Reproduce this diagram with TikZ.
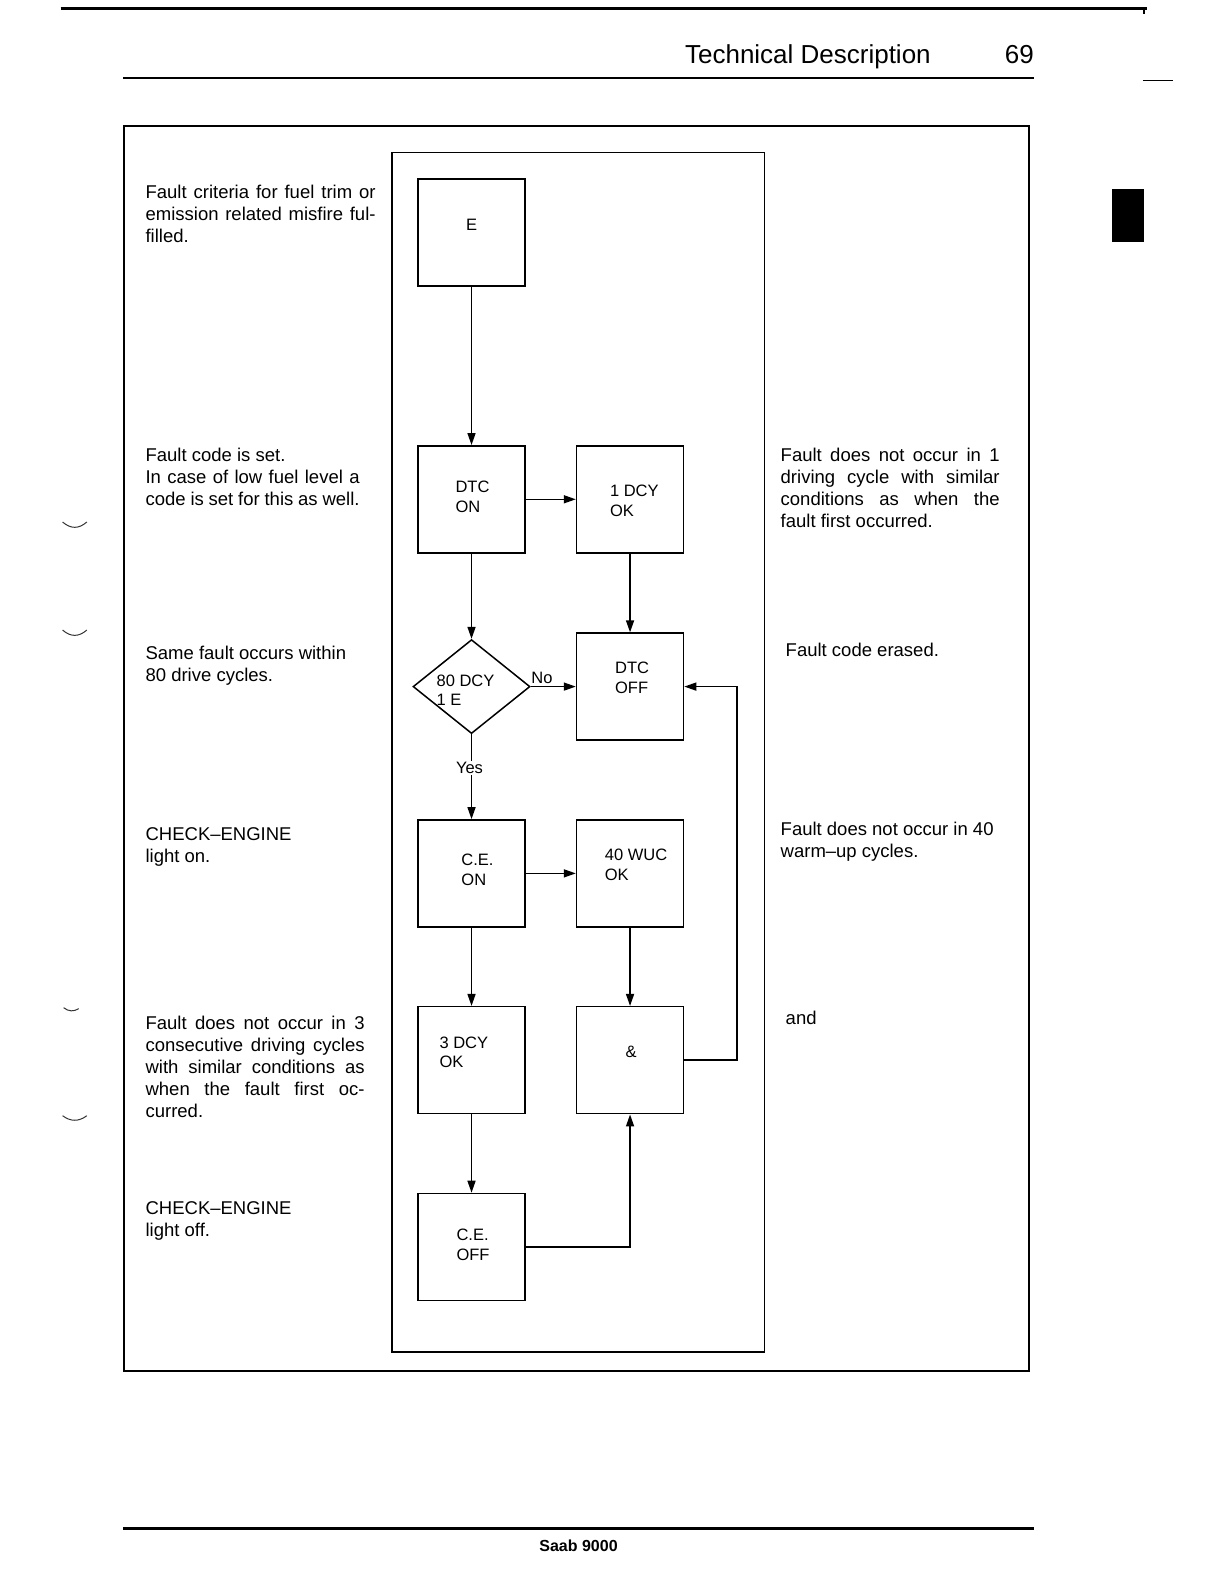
\documentclass[tikz,border=0pt]{standalone}
\usepackage{fontspec}
\setmainfont{Liberation Sans}
\usetikzlibrary{arrows.meta,shapes.geometric}
\newcommand\bt[3]{\raisebox{\dimexpr#2-3pt\relax}[0pt][0pt]{\makebox[0pt][c]{\hspace*{#1}\hspace*{#1}\begin{tabular}{@{}l@{}}#3\end{tabular}}}}
\newcommand\jl[2]{\makebox[#1][s]{#2}}
\newcommand\sidetext[1]{\begin{tabular}[t]{@{}l@{}}#1\end{tabular}}
\begin{document}
\begin{tikzpicture}[x=1.0097pt,y=-1.0097pt,
  box/.style={draw,line width=1.5pt,minimum width=107pt,minimum height=107pt,inner sep=0pt,font=\fontsize{16.5}{19.5}\selectfont},
  decision/.style={draw,diamond,line width=1.5pt,minimum width=117pt,minimum height=94pt,aspect=1.245,inner sep=0pt,font=\fontsize{16.5}{19.5}\selectfont},
  arr/.style={-{Triangle[length=12pt,width=8pt]},line width=1.5pt},
  side/.style={anchor=base west,inner sep=0pt,font=\fontsize{18.5}{22}\selectfont},
  lab/.style={font=\fontsize{16.5}{19.5}\selectfont,inner sep=1pt},
  frame/.style={draw,line width=1.5pt},
  scanmark/.style={line width=1pt,black!80}
]
\useasboundingbox (0,0) rectangle (1212.2,1568.8);

% header
\draw[line width=3pt] (60,8) -- (1136,8);
\draw[line width=1.5pt] (1133,8) -- (1133,14);
\node[anchor=base east,inner sep=0pt,font=\fontsize{26}{30}\selectfont] (hdr) at (922,63) {Technical Description};
\node[anchor=base east,inner sep=0pt,font=\fontsize{26}{30}\selectfont] (pg) at (1024,63) {69};
\draw[line width=2pt] (122,77) -- (1024,77);
\draw[line width=1pt] (1132,80) -- (1162,80);
\fill (1101,187) rectangle (1133,240);

% margin marks
\draw[scanmark] (62,517) .. controls (70,524) and (78,524) .. (86,517);
\draw[scanmark] (62,624) .. controls (70,631) and (78,631) .. (86,624);
\draw[scanmark] (63,998) .. controls (68,1002) and (73,1002) .. (78,999);
\draw[scanmark] (62,1105) .. controls (70,1111) and (78,1111) .. (86,1105);

% frames
\draw[frame] (123,125) rectangle (1019,1358);
\draw[frame] (388,151) rectangle (757,1339);

% flowchart nodes
\node[box] (E) at (467,230.5) {\bt{0pt}{4.4pt}{E}};
\node[box] (dtcon) at (467,494.5) {\bt{1pt}{-0.6pt}{DTC\\ON}};
\node[box] (dcy1) at (624,494.5) {\bt{4.3pt}{-4.6pt}{1 DCY\\OK}};
\node[decision] (dia) at (467,680) {\bt{-6pt}{-6.6pt}{80 DCY\\1 E}};
\node[box] (dtcoff) at (624,680) {\bt{2pt}{5.9pt}{DTC\\OFF}};
\node[box] (ceon) at (467,865) {\bt{6pt}{0.4pt}{C.E.\\ON}};
\node[box] (wuc) at (624,865) {\bt{6pt}{5.4pt}{40 WUC\\OK}};
\node[box] (dcy3) at (467,1050) {\bt{-7.7pt}{4.9pt}{3 DCY\\OK}};
\node[box] (andb) at (624,1050) {\bt{1pt}{4.9pt}{\&}};
\node[box] (ceoff) at (467,1235) {\bt{1.5pt}{-1.1pt}{C.E.\\OFF}};

% connectors
\draw[arr] (E) -- (dtcon);
\draw[arr] (dtcon) -- (dcy1);
\draw[arr] (dcy1) -- (dtcoff);
\draw[arr] (dtcon) -- (dia);
\draw[arr] (dia.east) -- node[lab,pos=0.25,anchor=base,yshift=2.6pt] (no) {No} (dtcoff.west);
\draw[arr] (dia.south) -- node[lab,pos=0.46,anchor=base,fill=white,xshift=-2pt] (yes) {Yes} (ceon.north);
\draw[arr] (ceon) -- (wuc);
\draw[arr] (ceon) -- (dcy3);
\draw[arr] (wuc) -- (andb);
\draw[arr] (dcy3) -- (ceoff);
\draw[arr] (ceoff.east) -| (andb.south);
\coordinate (fb) at (730,1050);
\draw[arr] (andb.east) -- (fb) |- (dtcoff.east);

% left texts
\node[side] (t1) at (144,197) {\sidetext{\jl{230pt}{Fault criteria for fuel trim or}\\\jl{230pt}{emission related misfire ful-}\\filled.}};
\node[side] (t2) at (144,457) {\sidetext{Fault code is set.\\\jl{214pt}{In case of low fuel level a}\\\jl{214pt}{code is set for this as well.}}};
\node[side] (t3) at (144,653) {\sidetext{Same fault occurs within\\80 drive cycles.}};
\node[side] (t4) at (144,832) {\sidetext{CHECK–ENGINE\\light on.}};
\node[side] (t5) at (144,1020) {\sidetext{\jl{219pt}{Fault does not occur in 3}\\\jl{219pt}{consecutive driving cycles}\\\jl{219pt}{with similar conditions as}\\\jl{219pt}{when the fault first oc-}\\curred.}};
\node[side] (t6) at (144,1203) {\sidetext{CHECK–ENGINE\\light off.}};

% right texts
\node[side] (r1) at (773,457) {\sidetext{\jl{219pt}{Fault does not occur in 1}\\\jl{219pt}{driving cycle with similar}\\\jl{219pt}{conditions as when the}\\fault first occurred.}};
\node[side] (r2) at (778,650) {Fault code erased.};
\node[side] (r3) at (773,827) {\sidetext{Fault does not occur in 40\\warm–up cycles.}};
\node[side] (r4) at (778,1015) {and};

% footer
\draw[line width=2.5pt] (122,1514) -- (1024,1514);
\node[anchor=base,inner sep=0pt,font=\fontsize{16}{19}\selectfont\bfseries] (ft) at (573,1537) {Saab 9000};
\end{tikzpicture}
\end{document}
